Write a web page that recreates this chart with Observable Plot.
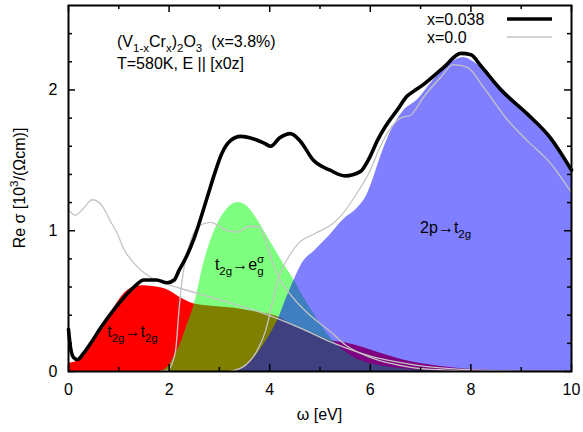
<!DOCTYPE html>
<html><head><meta charset="utf-8">
<script src="https://cdn.jsdelivr.net/npm/d3@7"></script>
<script src="https://cdn.jsdelivr.net/npm/@observablehq/plot@0.6"></script>
<style>body{margin:0;background:#fff;} svg text{white-space:pre;}</style>
</head><body><div id="chart"></div>
<script>
// x = 0.038 total (black)
const blackX = [0,0.04,0.1,0.18,0.3,0.44,0.64,0.97,1.3,1.5,1.75,1.96,2.1,2.2,2.35,2.5,2.76,2.9,3.05,3.22,3.42,3.7,3.9,4.02,4.2,4.41,4.6,4.87,5.2,5.5,5.8,6.0,6.14,6.3,6.54,6.74,6.86,7.06,7.46,7.8,8.0,8.2,8.6,9.12,9.58,10];
const blackY = [0.3,0.17,0.1,0.085,0.13,0.2,0.31,0.47,0.6,0.65,0.65,0.63,0.65,0.72,0.82,0.95,1.24,1.4,1.55,1.64,1.67,1.65,1.62,1.6,1.66,1.69,1.64,1.5,1.43,1.39,1.42,1.53,1.64,1.74,1.86,1.96,1.99,2.04,2.16,2.26,2.25,2.17,2.0,1.83,1.66,1.43];
// x = 0.038 components (filled)
const redX = [0,0.15,0.3,0.44,0.64,0.9,1.1,1.3,1.5,1.75,1.96,2.2,2.5,2.96,3.3,3.62,4.15,4.5,4.87,5.2,5.54,6.2,6.86,7.53,8.2,9,10];
const redY = [0.06,0.07,0.12,0.18,0.29,0.45,0.55,0.6,0.61,0.6,0.58,0.53,0.48,0.46,0.45,0.43,0.39,0.32,0.27,0.22,0.2,0.13,0.065,0.03,0.01,0.003,0];
const greenX = [1.8,1.97,2.09,2.23,2.36,2.46,2.52,2.69,2.88,3.08,3.38,3.56,3.82,4.0,4.15,4.3,4.45,4.67,4.95,5.21,5.47,5.8,6.2,6.8,7.5];
const greenY = [0,0.03,0.1,0.2,0.33,0.43,0.5,0.77,0.98,1.12,1.2,1.17,1.04,0.93,0.84,0.75,0.67,0.53,0.37,0.24,0.15,0.08,0.04,0.015,0];
const blueX = [3.3,3.5,3.7,3.9,4.05,4.18,4.31,4.5,4.65,4.9,5.2,5.47,5.74,5.94,6.06,6.2,6.4,6.66,6.94,7.26,7.6,7.85,8.05,8.39,8.93,9.52,10];
const blueY = [0,0.03,0.1,0.2,0.29,0.38,0.5,0.66,0.77,0.86,0.97,1.08,1.16,1.26,1.37,1.52,1.7,1.85,1.93,2.07,2.19,2.23,2.2,2.09,1.9,1.68,1.41];
// x = 0.0 components (gray)
const grayAX = [0,0.14,0.3,0.47,0.64,0.83,0.97,1.1,1.3,1.63,1.96,2.62,3.28,3.82,4.6,5.15,5.5,6.0,6.5,7.0,8.0,9.0,10];
const grayAY = [1.15,1.11,1.16,1.22,1.19,1.07,0.98,0.87,0.77,0.67,0.62,0.55,0.48,0.42,0.31,0.22,0.17,0.11,0.07,0.04,0.012,0.003,0];
const grayBX = [1.8,1.97,2.05,2.13,2.2,2.26,2.43,2.62,2.82,3.16,3.36,3.58,3.78,3.92,4.06,4.18,4.45,4.77,5.25,5.5,6.0,6.8,7.5,8.5];
const grayBY = [0,0.01,0.05,0.15,0.45,0.65,0.93,1.04,1.06,1.0,0.99,1.03,1.03,0.93,0.77,0.67,0.53,0.41,0.27,0.19,0.1,0.03,0.01,0];
const grayCX = [3.2,3.5,3.72,3.92,4.06,4.18,4.37,4.57,4.9,5.25,5.4,5.74,6.0,6.2,6.6,6.8,7.06,7.4,7.65,7.93,8.25,8.72,9.12,9.58,10];
const grayCY = [0,0.04,0.13,0.29,0.5,0.67,0.81,0.91,0.98,1.05,1.1,1.27,1.43,1.6,1.8,1.82,1.95,2.09,2.18,2.16,2.02,1.79,1.64,1.48,1.27];
// ticks
const xMajor = [0,2,4,6,8,10];
const xMinor = [1,3,5,7,9];
const yMajor = [0,1,2];
const yMinor = [0.2,0.4,0.6,0.8,1.2,1.4,1.6,1.8,2.2,2.4];

const rows = (xs, ys) => xs.map((x, i) => ({x, y: ys[i]}));
const W = 583, H = 432, mL = 68, mR = 12, mT = 5, mB = 61;
const pW = W - mL - mR, pH = H - mT - mB;
const xDom = [0, 10], yDom = [0, 2.6];
const FONT = "'Liberation Sans', Arial, 'DejaVu Sans', sans-serif";
const grayStroke = "#c4c4c4";

// inward tick lengths converted from pixels to data units
const ux = px => px / pW * (xDom[1] - xDom[0]);
const uy = px => px / pH * (yDom[1] - yDom[0]);
const tickMarks = (vals, len) => [
  Plot.ruleX(vals, {x: d => d, y1: yDom[0], y2: yDom[0] + uy(len), stroke: "#000", strokeWidth: 1.5}),
  Plot.ruleX(vals, {x: d => d, y1: yDom[1], y2: yDom[1] - uy(len), stroke: "#000", strokeWidth: 1.5})
];
const tickMarksY = (vals, len) => [
  Plot.ruleY(vals, {y: d => d, x1: xDom[0], x2: xDom[0] + ux(len), stroke: "#000", strokeWidth: 1.5}),
  Plot.ruleY(vals, {y: d => d, x1: xDom[1], x2: xDom[1] - ux(len), stroke: "#000", strokeWidth: 1.5})
];

const plot = Plot.plot({
  width: W, height: H,
  marginLeft: mL, marginRight: mR, marginTop: mT, marginBottom: mB,
  x: {domain: xDom},
  y: {domain: yDom},
  style: {fontFamily: FONT, fontSize: "16px", color: "#000", background: "#fff", overflow: "visible"},
  marks: [
    Plot.areaY(rows(redX, redY), {x: "x", y: "y", fill: "#ff0000", curve: "monotone-x"}),
    Plot.areaY(rows(greenX, greenY), {x: "x", y: "y", fill: "#00ff00", fillOpacity: 0.5, curve: "monotone-x"}),
    Plot.areaY(rows(blueX, blueY), {x: "x", y: "y", fill: "#0000ff", fillOpacity: 0.5, curve: "monotone-x"}),
    Plot.line(rows(grayAX, grayAY), {x: "x", y: "y", stroke: grayStroke, strokeWidth: 1.3, curve: "monotone-x"}),
    Plot.line(rows(grayBX, grayBY), {x: "x", y: "y", stroke: grayStroke, strokeWidth: 1.3, curve: "monotone-x"}),
    Plot.line(rows(grayCX, grayCY), {x: "x", y: "y", stroke: grayStroke, strokeWidth: 1.3, curve: "monotone-x"}),
    Plot.line(rows(blackX, blackY), {x: "x", y: "y", stroke: "#000", strokeWidth: 3.6, curve: "monotone-x"}),
    ...tickMarks(xMajor, 7), ...tickMarks(xMinor, 4),
    ...tickMarksY(yMajor, 7), ...tickMarksY(yMinor, 4),
    Plot.frame({stroke: "#000", strokeWidth: 2}),
    Plot.axisX({ticks: xMajor, tickSize: 0, tickPadding: 12, label: null, fontSize: 16, tickFormat: d => String(d)}),
    Plot.axisY({ticks: yMajor, tickSize: 0, tickPadding: 11, label: null, fontSize: 16, tickFormat: d => String(d)})
  ]
});
document.getElementById("chart").appendChild(plot);

const svg = d3.select(plot);
const sx = plot.scale("x"), sy = plot.scale("y");

function rich(x, y, parts, opts = {}) {
  const t = svg.append("text")
    .attr("x", x).attr("y", y)
    .attr("font-family", FONT).attr("font-size", opts.size || 16)
    .attr("fill", "#000")
    .attr("text-anchor", opts.anchor || "start");
  if (opts.rotate) t.attr("transform", `rotate(${opts.rotate},${x},${y})`);
  let cur = 0;
  for (const p of parts) {
    const [s, kind, dx] = typeof p === "string" ? [p, null, 0] : p;
    const off = kind === "sub" ? 5 : kind === "sup" ? -7 : 0;
    const ts = t.append("tspan").attr("dy", off - cur).text(s);
    if (kind) ts.attr("font-size", (opts.size || 16) * 0.72);
    if (dx) ts.attr("dx", dx);
    cur = off;
  }
  return t;
}

// annotation block
rich(117, 47, ["(V", ["1-x", "sub"], "Cr", ["x", "sub"], ")", ["2", "sub"], "O", ["3", "sub"], "  (x=3.8%)"]);
rich(117, 69, ["T=580K, E || [x0z]"]);

// component labels placed in data space
rich(sx.apply(0.78), sy.apply(0.24), ["t", ["2g", "sub"], "\u2192t", ["2g", "sub"]]);
rich(sx.apply(2.92), sy.apply(0.72), ["t", ["2g", "sub"], "\u2192e", ["\u03c3", "sup"], ["g", "sub", -7]]);
rich(sx.apply(7.0), sy.apply(0.98), ["2p\u2192t", ["2g", "sub"]]);

// axis titles
rich((mL + W - mR) / 2, 420, ["\u03c9 [eV]"], {anchor: "middle"});
rich(25, 188, ["Re \u03c3 [10", ["3", "sup"], "/(\u03a9cm)]"], {anchor: "middle", rotate: -90});

// legend
rich(427, 25, ["x=0.038"]);
rich(427, 43, ["x=0.0"]);
svg.append("line").attr("x1", 507).attr("x2", 552).attr("y1", 19).attr("y2", 19).attr("stroke", "#000").attr("stroke-width", 3.6);
svg.append("line").attr("x1", 507).attr("x2", 552).attr("y1", 37).attr("y2", 37).attr("stroke", grayStroke).attr("stroke-width", 1.3);
</script>
</body></html>
